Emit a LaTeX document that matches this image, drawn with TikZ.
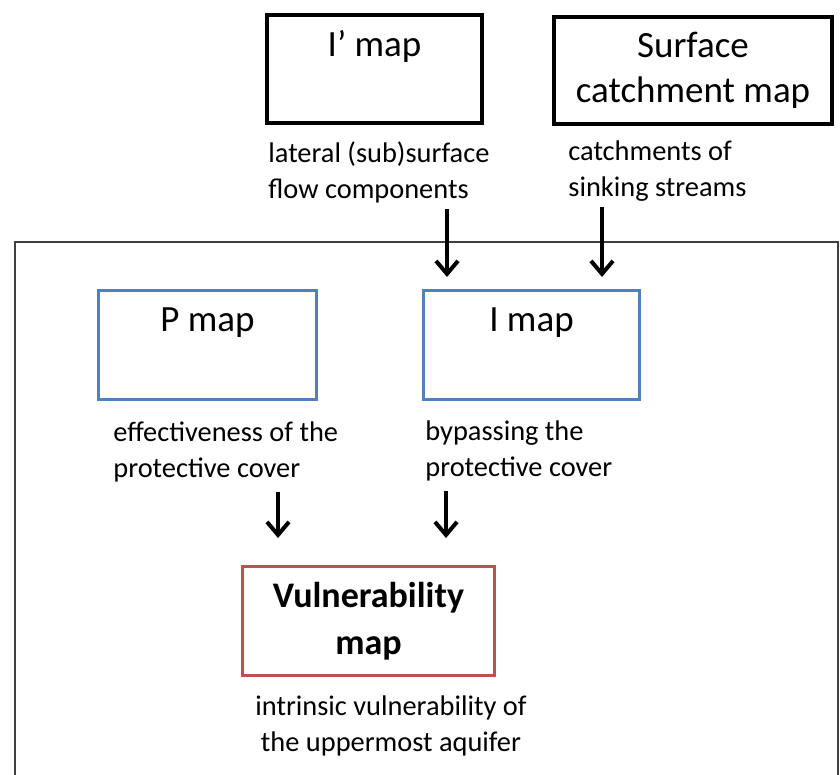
\documentclass[tikz,border=0pt]{standalone}
\usepackage{fontspec}
\setmainfont{Carlito}
\usetikzlibrary{arrows.meta}
\usetikzlibrary{scopes}
\definecolor{mapblue}{HTML}{4F81BD}
\definecolor{mapred}{HTML}{C0504D}

\begin{document}
\begin{tikzpicture}[
    x=0.5pt, y=-0.5pt,
    map/.style={rectangle, inner sep=0pt, align=center, font=\fontsize{18.5}{22.5}\selectfont},
    source/.style={draw=black, line width=2pt},
    input/.style={draw=mapblue, line width=1.5pt},
    result/.style={draw=mapred, line width=1.5pt},
    note/.style={inner sep=0pt, font=\fontsize{14.2}{18}\selectfont, execute at begin node=\strut},
    frame/.style={draw=black!75, line width=0.8pt},
    flow/.style={-{Straight Barb[length=6.5pt,width=11pt]}, line width=2pt},
]
\useasboundingbox (0,0) rectangle (840,775);

% frame round the map set
\draw[frame] (15,776) -- (15,242) -- (838,242) -- (838,776);
% source maps
\node[map, source, anchor=north west, minimum width=107.5pt, text height=21pt, text depth=33pt] (iprime) at (265,13) {I’ map};
\node[map, source, anchor=north west, minimum width=139pt, minimum height=53.5pt] (surface) at (552,15) {Surface\\catchment map};
% factor maps
\node[map, input, anchor=north west, minimum width=109pt, text height=20.5pt, text depth=34pt] (pmap) at (97,289) {P map};
\node[map, input, anchor=north west, minimum width=108pt, text height=20.5pt, text depth=34pt] (imap) at (422,289) {I map};
% final map
\node[map, result, anchor=north west, minimum width=126pt, minimum height=54.5pt, font=\fontsize{18}{23.5}\selectfont\bfseries] (vuln) at (241,565) {Vulnerability\\map};
% notes
\node[note, anchor=north west, align=left] (lateral) at (268,141) {lateral (sub)surface\\flow components};
\node[note, anchor=north west, align=left] (sinking) at (568,140) {catchments of\\sinking streams};
\node[note, anchor=north west, align=left] (effect) at (113,421) {effectiveness of the\\protective cover};
\node[note, anchor=north west, align=left] (bypass) at (425,420) {bypassing the\\protective cover};
\node[note, anchor=north, align=center] (intrinsic) at (391,695) {intrinsic vulnerability of\\the uppermost aquifer};
{[flow]
    \draw ([xshift=89.5pt]lateral.south west) -- ([xshift=12.5pt,yshift=6pt]imap.north west);
    \draw ([xshift=17pt]sinking.south west) -- ([xshift=90pt,yshift=6pt]imap.north west);
    \draw ([xshift=82.5pt,yshift=-2pt]effect.south west) -- ([xshift=18.5pt,yshift=13.5pt]vuln.north west);
    \draw ([xshift=10.5pt,yshift=-2pt]bypass.south west) -- ([xshift=102.5pt,yshift=13.5pt]vuln.north west);
}
\end{tikzpicture}
\end{document}
